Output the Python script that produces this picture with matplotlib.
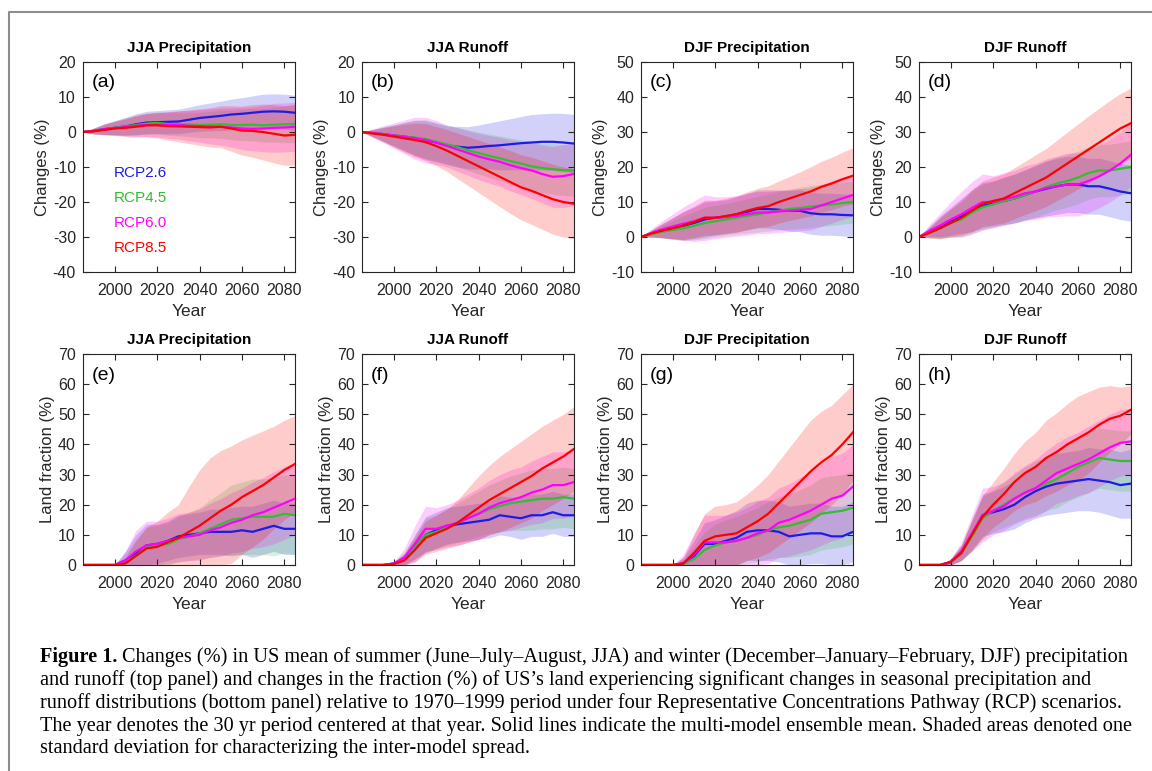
import numpy as np
import matplotlib
matplotlib.use('Agg')
import matplotlib.pyplot as plt
from matplotlib.lines import Line2D

plt.rcParams['font.family'] = ['Liberation Sans', 'DejaVu Sans']
plt.rcParams['axes.unicode_minus'] = False

years = [1985, 1990, 1995, 2000, 2005, 2010, 2015, 2020, 2025, 2030, 2035,
         2040, 2045, 2050, 2055, 2060, 2065, 2070, 2075, 2080, 2085]
scenarios = ['RCP2.6', 'RCP4.5', 'RCP6.0', 'RCP8.5']
colors = ['#1c1ce6', '#2fbf2f', '#ff00ff', '#ff0000']

# (a) JJA precipitation change (%)
a_mean = [[0, 0.3, 0.8, 1.2, 1.6, 2.2, 2.7, 2.8, 2.9, 3.0, 3.5, 4.0, 4.3, 4.6, 5.0, 5.2, 5.5, 5.8, 5.9, 5.8, 5.5],
          [0, 0.3, 0.8, 1.2, 1.6, 2.0, 2.4, 2.6, 2.3, 2.2, 2.1, 2.0, 2.1, 2.2, 2.0, 2.0, 2.1, 1.9, 2.1, 2.2, 2.3],
          [0, 0.3, 0.8, 1.1, 1.4, 1.8, 2.0, 2.1, 2.0, 2.0, 1.8, 1.7, 1.6, 1.5, 1.3, 1.0, 0.9, 1.0, 1.2, 1.3, 1.5],
          [0, 0.2, 0.6, 1.0, 1.2, 1.5, 1.9, 1.9, 1.7, 1.6, 1.5, 1.4, 1.3, 1.5, 1.0, 0.4, 0.3, 0.0, -0.5, -1.0, -0.8]]
a_sd = [[0, 0.8, 1.5, 2.0, 2.5, 3.0, 3.2, 3.3, 3.4, 3.5, 3.6, 3.8, 4.0, 4.2, 4.4, 4.6, 4.8, 5.0, 5.0, 5.0, 5.0],
        [0, 0.8, 1.5, 2.0, 2.5, 2.8, 3.0, 3.1, 3.2, 3.3, 3.4, 3.6, 3.8, 4.0, 4.2, 4.4, 4.6, 4.8, 5.0, 5.2, 5.4],
        [0, 0.8, 1.5, 2.0, 2.5, 3.0, 3.3, 3.5, 3.8, 4.0, 4.3, 4.6, 5.0, 5.3, 5.6, 6.0, 6.3, 6.6, 7.0, 7.0, 7.0],
        [0, 0.8, 1.5, 2.0, 2.5, 3.0, 3.3, 3.6, 4.0, 4.4, 4.8, 5.2, 5.6, 6.0, 6.5, 7.0, 7.5, 8.0, 8.3, 8.5, 8.7]]

# (b) JJA runoff change (%)
b_mean = [[0, -0.3, -0.6, -1.0, -1.3, -1.7, -2.3, -3.0, -3.8, -4.2, -4.5, -4.3, -4.0, -3.8, -3.5, -3.2, -3.0, -2.8, -2.8, -3.0, -3.3],
          [0, -0.3, -0.6, -1.0, -1.3, -1.6, -2.0, -2.8, -3.5, -4.3, -5.2, -6.0, -6.8, -7.5, -8.3, -9.0, -9.8, -10.3, -10.6, -10.9, -11.0],
          [0, -0.3, -0.6, -1.0, -1.4, -1.8, -2.3, -3.0, -4.0, -5.0, -6.0, -7.0, -7.8, -8.5, -9.5, -10.3, -11.0, -12.0, -12.8, -12.6, -12.0],
          [0, -0.4, -0.8, -1.3, -1.8, -2.3, -2.9, -4.0, -5.3, -6.8, -8.3, -9.8, -11.3, -12.8, -14.3, -15.8, -16.8, -18.0, -19.2, -20.0, -20.5]]
b_sd = [[0, 1.0, 2.0, 3.0, 4.0, 5.0, 5.5, 5.5, 5.5, 5.8, 6.0, 6.3, 6.6, 7.0, 7.3, 7.6, 8.0, 8.0, 8.2, 8.3, 8.3],
        [0, 1.0, 2.0, 3.0, 4.0, 5.0, 5.5, 5.5, 5.5, 5.6, 5.8, 6.0, 6.2, 6.4, 6.6, 6.8, 7.0, 7.0, 7.2, 7.3, 7.3],
        [0, 1.2, 2.4, 3.6, 4.8, 6.0, 6.5, 6.3, 6.0, 6.2, 6.4, 6.6, 6.8, 7.0, 7.3, 7.6, 8.0, 8.3, 8.6, 9.0, 9.0],
        [0, 1.0, 2.0, 3.0, 4.0, 4.8, 5.3, 5.6, 6.0, 6.5, 7.0, 7.5, 8.0, 8.5, 9.0, 9.3, 9.6, 9.8, 10.0, 10.0, 10.0]]

# (c) DJF precipitation change (%)
c_mean = [[0, 1.0, 1.8, 2.5, 3.2, 4.0, 5.0, 5.5, 5.8, 6.5, 7.2, 8.0, 8.0, 7.8, 7.5, 7.5, 6.8, 6.5, 6.5, 6.3, 6.2],
          [0, 0.8, 1.5, 2.0, 2.5, 3.2, 4.0, 4.5, 5.0, 5.5, 6.0, 6.5, 7.0, 7.5, 8.0, 8.3, 8.7, 9.0, 9.3, 9.7, 10.0],
          [0, 1.2, 2.2, 3.0, 3.8, 4.5, 5.5, 5.5, 5.7, 6.0, 6.5, 7.0, 7.0, 7.3, 7.5, 7.8, 8.0, 9.0, 10.0, 11.0, 12.0],
          [0, 1.0, 1.8, 2.5, 3.3, 4.3, 5.5, 5.5, 6.0, 6.5, 7.5, 8.3, 8.8, 10.0, 11.0, 12.0, 13.0, 14.3, 15.3, 16.5, 17.5]]
c_sd = [[0, 1.0, 2.0, 3.0, 4.0, 4.5, 5.0, 4.8, 4.8, 5.0, 5.2, 5.4, 5.5, 5.6, 5.8, 6.0, 6.0, 6.0, 6.0, 6.0, 6.0],
        [0, 0.9, 1.8, 2.7, 3.5, 4.0, 4.5, 4.5, 4.5, 4.7, 4.9, 5.1, 5.3, 5.5, 5.7, 5.9, 6.0, 6.0, 6.0, 6.0, 6.0],
        [0, 1.2, 2.4, 3.6, 4.8, 5.8, 6.5, 6.0, 5.8, 5.8, 6.0, 6.0, 6.0, 6.0, 6.0, 6.0, 6.0, 6.0, 6.0, 6.0, 6.0],
        [0, 1.0, 2.0, 3.0, 4.0, 4.5, 5.0, 5.0, 5.0, 5.2, 5.4, 5.6, 5.8, 6.0, 6.3, 6.6, 7.0, 7.3, 7.5, 7.7, 8.0]]

# (d) DJF runoff change (%)
d_mean = [[0, 1.5, 3.0, 4.5, 6.0, 7.5, 9.0, 9.5, 10.3, 11.0, 12.0, 13.0, 13.8, 14.5, 15.0, 15.0, 14.5, 14.5, 13.8, 13.0, 12.5],
          [0, 1.2, 2.5, 4.0, 5.0, 7.0, 8.5, 9.3, 10.3, 11.0, 12.0, 13.0, 14.3, 15.3, 16.0, 17.0, 18.3, 19.0, 19.0, 19.5, 20.0],
          [0, 1.8, 3.3, 5.0, 6.5, 8.3, 10.0, 10.0, 10.8, 11.5, 12.5, 13.0, 14.0, 14.5, 15.0, 15.0, 16.0, 17.3, 19.0, 21.0, 23.5],
          [0, 1.2, 2.5, 4.0, 5.5, 7.5, 9.5, 10.3, 11.0, 12.5, 14.0, 15.5, 17.0, 19.0, 21.0, 23.0, 25.0, 27.0, 29.0, 31.0, 32.5]]
d_sd = [[0, 1.5, 3.0, 4.0, 5.0, 6.0, 6.5, 6.5, 6.8, 7.0, 7.2, 7.5, 7.8, 8.0, 8.0, 8.0, 8.0, 8.0, 8.0, 8.0, 8.0],
        [0, 1.5, 3.0, 4.0, 5.0, 6.0, 6.5, 6.5, 6.7, 6.9, 7.1, 7.3, 7.5, 7.5, 7.5, 7.5, 7.5, 7.5, 7.5, 7.5, 7.5],
        [0, 1.8, 3.5, 5.0, 6.5, 7.5, 8.0, 7.5, 7.5, 7.5, 7.8, 8.0, 8.3, 8.6, 9.0, 9.0, 9.0, 9.0, 9.0, 9.0, 9.0],
        [0, 1.5, 3.0, 4.0, 5.0, 6.0, 6.5, 6.8, 7.0, 7.3, 7.6, 8.0, 8.3, 8.6, 9.0, 9.3, 9.6, 9.8, 10.0, 10.0, 10.0]]

# (e) JJA precipitation, land fraction (%)
e_mean = [[0, 0, 0, 0, 1.5, 4.0, 6.5, 7.0, 8.0, 9.5, 10.0, 10.5, 11.0, 11.0, 11.0, 11.5, 11.0, 12.0, 13.0, 12.0, 12.0],
          [0, 0, 0, 0, 1.0, 3.0, 6.0, 6.5, 7.0, 8.5, 9.5, 10.5, 12.0, 13.5, 15.0, 15.5, 16.0, 16.0, 16.0, 17.0, 16.5],
          [0, 0, 0, 0, 1.5, 4.5, 6.5, 7.0, 8.0, 9.0, 9.5, 10.0, 11.5, 12.5, 14.0, 15.0, 16.5, 17.5, 19.0, 20.5, 22.0],
          [0, 0, 0, 0, 0.5, 3.0, 5.5, 6.0, 7.5, 9.0, 11.0, 13.0, 15.5, 18.0, 20.0, 22.5, 24.5, 26.5, 29.0, 31.5, 33.5]]
e_sd = [[0, 0, 0, 0, 3.0, 6.0, 7.0, 6.5, 6.5, 7.0, 7.0, 7.0, 7.5, 7.5, 8.0, 8.0, 8.5, 8.5, 8.5, 8.5, 8.5],
        [0, 0, 0, 0, 2.5, 5.5, 6.5, 6.5, 7.0, 7.5, 8.0, 8.5, 9.5, 10.5, 11.5, 12.0, 12.5, 12.5, 13.0, 13.0, 13.0],
        [0, 0, 0, 0, 3.0, 7.0, 8.0, 7.5, 7.5, 8.0, 8.0, 8.5, 9.0, 9.5, 10.0, 10.5, 11.0, 11.5, 12.0, 12.0, 12.0],
        [0, 0, 0, 0, 2.0, 5.0, 7.0, 8.5, 10.0, 11.0, 15.0, 18.5, 20.0, 20.0, 19.5, 19.0, 18.5, 18.0, 17.0, 16.5, 16.0]]

# (f) JJA runoff, land fraction (%)
f_mean = [[0, 0, 0, 0.5, 2.0, 6.0, 10.0, 11.5, 13.0, 13.5, 14.0, 14.5, 15.0, 16.5, 16.0, 15.5, 16.5, 16.5, 17.5, 16.5, 16.5],
          [0, 0, 0, 0.5, 2.0, 6.0, 10.0, 11.0, 12.5, 14.0, 15.5, 17.0, 18.5, 19.5, 20.5, 21.0, 21.5, 22.0, 22.0, 22.5, 22.0],
          [0, 0, 0, 0.5, 2.5, 7.0, 12.0, 12.0, 13.0, 14.0, 15.5, 17.0, 19.0, 20.5, 21.5, 22.5, 24.0, 25.0, 26.5, 26.5, 27.5],
          [0, 0, 0, 0.3, 1.5, 5.0, 9.0, 10.5, 12.0, 14.0, 16.5, 19.0, 21.5, 23.5, 25.5, 27.5, 29.5, 32.0, 34.0, 36.0, 38.5]]
f_sd = [[0, 0, 0, 0.5, 2.0, 4.0, 6.0, 6.0, 6.0, 6.0, 6.0, 6.0, 6.0, 6.5, 6.5, 7.0, 7.0, 7.0, 7.0, 7.0, 7.0],
        [0, 0, 0, 0.5, 2.0, 4.0, 5.5, 5.5, 6.0, 6.5, 7.0, 7.5, 8.0, 8.5, 9.0, 9.5, 10.0, 10.0, 10.0, 10.0, 10.0],
        [0, 0, 0, 0.5, 3.0, 6.0, 7.5, 7.0, 7.0, 7.5, 8.0, 8.5, 9.0, 9.5, 10.0, 10.0, 10.5, 11.0, 11.0, 11.0, 11.0],
        [0, 0, 0, 0.5, 2.0, 4.0, 5.5, 6.0, 6.5, 7.5, 9.0, 10.5, 11.5, 12.5, 13.0, 13.5, 14.0, 14.0, 14.0, 14.0, 14.0]]

# (g) DJF precipitation, land fraction (%)
g_mean = [[0, 0, 0, 0, 0.5, 3.0, 7.0, 7.0, 8.0, 9.0, 11.0, 11.5, 11.5, 11.0, 9.5, 10.0, 10.5, 10.5, 9.5, 9.5, 11.0],
          [0, 0, 0, 0, 0.3, 2.0, 5.0, 6.5, 7.5, 8.0, 9.0, 10.0, 11.5, 12.5, 13.0, 14.0, 15.0, 17.0, 17.5, 18.0, 19.0],
          [0, 0, 0, 0, 0.5, 3.5, 7.5, 7.5, 7.5, 8.0, 9.0, 10.5, 11.5, 14.0, 15.0, 16.5, 18.0, 20.0, 22.0, 23.0, 26.0],
          [0, 0, 0, 0, 0.5, 4.0, 8.0, 9.5, 10.0, 10.5, 12.5, 14.5, 17.0, 20.5, 24.0, 27.5, 31.0, 34.0, 36.5, 40.0, 44.0]]
g_sd = [[0, 0, 0, 0, 2.0, 5.0, 7.0, 8.0, 8.5, 9.0, 9.5, 10.0, 10.0, 10.0, 10.0, 10.0, 10.0, 10.0, 10.0, 10.0, 10.0],
        [0, 0, 0, 0, 1.5, 4.0, 6.0, 7.0, 7.5, 8.0, 8.5, 9.0, 9.5, 10.0, 10.5, 11.0, 11.5, 12.0, 12.0, 12.0, 12.0],
        [0, 0, 0, 0, 3.0, 7.0, 9.0, 9.0, 9.0, 9.5, 10.0, 10.5, 11.0, 11.5, 12.0, 12.5, 13.0, 13.5, 14.0, 14.0, 14.0],
        [0, 0, 0, 0, 2.0, 6.0, 9.0, 10.0, 10.0, 10.5, 11.0, 12.0, 13.0, 14.0, 15.0, 16.0, 17.0, 17.0, 16.5, 16.5, 16.0]]

# (h) DJF runoff, land fraction (%)
h_mean = [[0, 0, 0, 1.0, 4.0, 10.0, 16.5, 17.5, 18.5, 20.0, 22.5, 24.5, 26.0, 27.0, 27.5, 28.0, 28.5, 28.0, 27.5, 26.5, 27.0],
          [0, 0, 0, 1.0, 4.0, 9.5, 15.5, 18.0, 20.0, 22.0, 24.0, 25.5, 27.0, 28.5, 30.5, 32.5, 34.0, 35.5, 35.0, 34.5, 34.5],
          [0, 0, 0, 1.0, 4.5, 10.5, 16.5, 18.0, 19.5, 22.0, 24.0, 25.5, 28.0, 30.5, 32.0, 33.5, 35.0, 37.0, 39.0, 40.5, 41.0],
          [0, 0, 0, 1.0, 4.0, 10.0, 16.0, 20.0, 23.5, 27.5, 30.5, 32.5, 35.5, 37.5, 40.0, 42.0, 44.0, 46.5, 48.5, 49.5, 51.5]]
h_sd = [[0, 0, 0, 1.0, 2.5, 5.0, 7.0, 7.0, 7.5, 8.0, 8.5, 9.0, 9.5, 10.0, 10.0, 10.0, 10.5, 10.5, 11.0, 11.0, 11.5],
        [0, 0, 0, 1.0, 2.5, 5.0, 7.0, 7.0, 7.5, 8.0, 8.5, 9.0, 9.0, 9.5, 9.5, 10.0, 10.0, 10.0, 10.0, 10.0, 10.0],
        [0, 0, 0, 1.0, 3.0, 6.0, 9.0, 8.0, 8.0, 8.5, 9.0, 9.5, 10.0, 10.0, 10.5, 10.5, 11.0, 11.0, 11.0, 11.0, 11.0],
        [0, 0, 0, 1.0, 2.5, 5.0, 7.0, 7.5, 8.5, 9.5, 10.5, 11.5, 12.5, 13.0, 13.5, 14.0, 13.5, 12.5, 11.0, 9.5, 8.0]]

panels = [
    ('JJA Precipitation', '(a)', a_mean, a_sd),
    ('JJA Runoff', '(b)', b_mean, b_sd),
    ('DJF Precipitation', '(c)', c_mean, c_sd),
    ('DJF Runoff', '(d)', d_mean, d_sd),
    ('JJA Precipitation', '(e)', e_mean, e_sd),
    ('JJA Runoff', '(f)', f_mean, f_sd),
    ('DJF Precipitation', '(g)', g_mean, g_sd),
    ('DJF Runoff', '(h)', h_mean, h_sd),
]
ylims = [(-40, 20), (-40, 20), (-10, 50), (-10, 50), (0, 70), (0, 70), (0, 70), (0, 70)]

fig = plt.figure(figsize=(11.52, 7.71), dpi=100)
lefts = [0.0720, 0.3142, 0.5564, 0.7977]
w = 0.184
dark = '#262626'

for i, (title, tag, means, sds) in enumerate(panels):
    row = i // 4
    col = i % 4
    if row == 0:
        ax = fig.add_axes([lefts[col], 0.6472, w, 0.2724])
    else:
        ax = fig.add_axes([lefts[col], 0.2672, w, 0.2737])
    x = np.array(years)
    for k in range(4):
        m = np.array(means[k])
        s = np.array(sds[k])
        lo = m - s
        hi = m + s
        if row == 1:
            lo = np.clip(lo, 0, None)
        ax.fill_between(x, lo, hi, color=colors[k], alpha=0.2, lw=0)
    for k in range(4):
        ax.plot(x, means[k], color=colors[k], lw=1.6)
    ax.set_xlim(1985, 2085)
    ax.set_ylim(*ylims[i])
    ax.set_xticks([2000, 2020, 2040, 2060, 2080])
    lo_y, hi_y = ylims[i]
    ax.set_yticks(np.arange(lo_y, hi_y + 1, 10))
    ax.tick_params(direction='in', top=True, right=True, length=4, width=0.8,
                   labelsize=11.5, colors=dark, pad=5)
    ax.tick_params(axis='x', pad=8)
    for sp in ax.spines.values():
        sp.set_color(dark)
        sp.set_linewidth(0.8)
    ax.set_title(title, fontsize=11, fontweight='bold', color='black', pad=7)
    ax.set_xlabel('Year', fontsize=12.5, color=dark, labelpad=4)
    if row == 0:
        ax.set_ylabel('Changes (%)', fontsize=12, color=dark, labelpad=2)
    else:
        ax.set_ylabel('Land fraction (%)', fontsize=12, color=dark, labelpad=2)
    ax.text(0.04, 0.9, tag, transform=ax.transAxes, fontsize=14, color='black',
            va='center', ha='left')
    if i == 0:
        for k, name in enumerate(scenarios):
            ax.text(1999.5, -11.7 - 7.1 * k, name, color=colors[k], fontsize=11,
                    va='center', ha='left')

# frame around the figure
fig.add_artist(Line2D([0.0078, 0.0078, 1.0], [0.0, 0.9844, 0.9844],
                      transform=fig.transFigure, color='#8c8c8c', lw=1.5))

caption = [
    'Changes (%) in US mean of summer (June\u2013July\u2013August, JJA) and winter (December\u2013January\u2013February, DJF) precipitation',
    'and runoff (top panel) and changes in the fraction (%) of US\u2019s land experiencing significant changes in seasonal precipitation and',
    'runoff distributions (bottom panel) relative to 1970\u20131999 period under four Representative Concentrations Pathway (RCP) scenarios.',
    'The year denotes the 30 yr period centered at that year. Solid lines indicate the multi-model ensemble mean. Shaded areas denoted one',
    'standard deviation for characterizing the inter-model spread.',
]
cap_font = ['Liberation Serif', 'DejaVu Serif']
cap_size = 14.6
x0 = 40 / 1152
line_y = [657, 680, 703, 726, 748]

fig.canvas.draw()
renderer = fig.canvas.get_renderer()
bold = fig.text(x0, 1 - line_y[0] / 771, 'Figure 1. ', family=cap_font,
                fontsize=cap_size, fontweight='bold', va='center', ha='left')
bb = bold.get_window_extent(renderer=renderer)
fig.text(bb.x1 / fig.bbox.width, 1 - line_y[0] / 771, caption[0], family=cap_font,
         fontsize=cap_size, va='center', ha='left')
for j in range(1, 5):
    fig.text(x0, 1 - line_y[j] / 771, caption[j], family=cap_font,
             fontsize=cap_size, va='center', ha='left')

fig.savefig('out.png', dpi=100)
